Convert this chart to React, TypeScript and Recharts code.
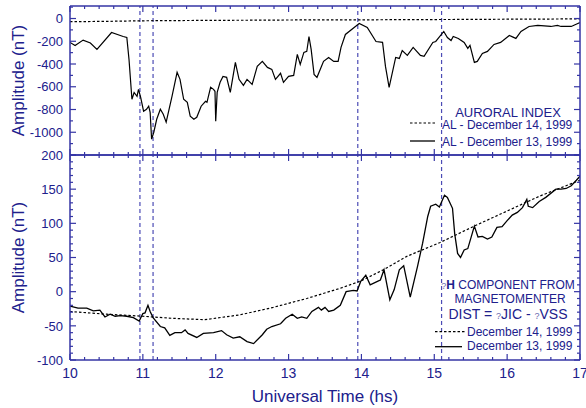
import { LineChart, Line, XAxis, YAxis, ReferenceLine, Legend } from 'recharts'

const NAVY = '#20208c'
const AXIS = '#3535a5'
const GUIDE = '#4b4bb5'
const FONT = '"Liberation Sans", Arial, Helvetica, sans-serif'

// hours UT
const hourTicks = [
  10, 10.2, 10.4, 10.6, 10.8, 11, 11.2, 11.4, 11.6, 11.8, 12, 12.2, 12.4, 12.6, 12.8,
  13, 13.2, 13.4, 13.6, 13.8, 14, 14.2, 14.4, 14.6, 14.8, 15, 15.2, 15.4, 15.6, 15.8,
  16, 16.2, 16.4, 16.6, 16.8, 17,
]
const eventHours = [10.96, 11.14, 13.95, 15.1]

const alTicks = [-1200, -1100, -1000, -900, -800, -700, -600, -500, -400, -300, -200, -100, 0, 100]
const alLabels = [-1000, -800, -600, -400, -200, 0]

const dhTicks = [
  -100, -90, -80, -70, -60, -50, -40, -30, -20, -10, 0, 10, 20, 30, 40, 50, 60, 70, 80, 90,
  100, 110, 120, 130, 140, 150, 160, 170, 180, 190, 200,
]
const dhLabels = [-100, -50, 0, 50, 100, 150, 200]

// AL - December 14, 1999
const alHours14 = [10, 10.5, 11, 11.5, 12, 12.5, 13, 13.5, 14, 14.5, 15, 15.5, 16, 16.5, 17]
const alValues14 = [-28, -25, -20, -18, -16, -15, -13, -12, -12, -10, -9, -8, -6, -5, -3]

// AL - December 13, 1999
const alHours13 = [
  10.0, 10.07, 10.18, 10.28, 10.37, 10.57, 10.73, 10.78, 10.81, 10.85,
  10.88, 10.92, 10.94, 10.97, 11.01, 11.05, 11.08, 11.1, 11.12, 11.15,
  11.19, 11.24, 11.28, 11.32, 11.4, 11.47, 11.51, 11.56, 11.61, 11.65,
  11.7, 11.74, 11.8, 11.86, 11.88, 11.93, 11.97, 11.99, 12.0, 12.02,
  12.06, 12.1, 12.15, 12.2, 12.27, 12.32, 12.38, 12.43, 12.5, 12.57,
  12.64, 12.71, 12.77, 12.82, 12.89, 12.93, 13.0, 13.07, 13.12, 13.16,
  13.21, 13.25, 13.28, 13.31, 13.35, 13.39, 13.48, 13.55, 13.62, 13.68,
  13.72, 13.78, 13.9, 13.97, 14.08, 14.2, 14.29, 14.33, 14.38, 14.47,
  14.52, 14.56, 14.63, 14.71, 14.81, 14.86, 14.98, 15.02, 15.13, 15.18,
  15.23, 15.26, 15.33, 15.41, 15.46, 15.49, 15.55, 15.59, 15.66, 15.73,
  15.82, 15.91, 16.03, 16.12, 16.19, 16.3, 16.42, 16.6, 16.69, 16.74,
  16.88, 16.97, 17.0,
]
const alValues13 = [
  -210, -237, -190, -215, -272, -123, -158, -167, -360, -710,
  -650, -684, -623, -693, -815, -798, -771, -825, -1061, -1000,
  -886, -798, -842, -912, -684, -473, -535, -710, -737, -859,
  -886, -868, -771, -728, -737, -605, -623, -640, -903, -650,
  -561, -509, -517, -650, -386, -535, -588, -535, -579, -421,
  -377, -430, -447, -535, -482, -561, -509, -500, -316, -403,
  -298, -289, -158, -272, -491, -517, -377, -342, -377, -377,
  -254, -140, -79, -44, -79, -202, -210, -421, -605, -342,
  -351, -281, -324, -254, -324, -333, -210, -202, -114, -167,
  -193, -158, -175, -210, -263, -237, -386, -377, -307, -289,
  -228, -210, -149, -175, -114, -70, -61, -70, -61, -70,
  -70, -44, -35,
]

// dH (JIC - VSS) - December 14, 1999
const dhHours14 = [10, 10.5, 11, 11.4, 11.85, 12.33, 12.79, 13.25, 13.71, 14, 14.3, 14.63, 15.08, 15.55, 16, 16.45, 17]
const dhValues14 = [-29, -33, -36, -39, -41, -34, -23, -10, 5, 16, 32, 52, 72, 96, 118, 140, 163]

// dH (JIC - VSS) - December 13, 1999
const dhHours13 = [
  10.0, 10.11, 10.23, 10.32, 10.41, 10.48, 10.55, 10.62, 10.69, 10.78,
  10.87, 10.95, 11.0, 11.03, 11.07, 11.1, 11.14, 11.24, 11.3, 11.37,
  11.44, 11.53, 11.58, 11.62, 11.74, 11.83, 11.97, 12.08, 12.15, 12.24,
  12.33, 12.43, 12.52, 12.64, 12.7, 12.77, 12.89, 12.96, 13.05, 13.12,
  13.18, 13.25, 13.32, 13.41, 13.45, 13.5, 13.55, 13.62, 13.71, 13.79,
  13.89, 13.94, 13.99, 14.06, 14.12, 14.22, 14.26, 14.31, 14.39, 14.45,
  14.52, 14.58, 14.67, 14.77, 14.84, 14.91, 14.95, 15.02, 15.07, 15.14,
  15.18, 15.25, 15.28, 15.32, 15.36, 15.41, 15.46, 15.55, 15.6, 15.66,
  15.73, 15.79, 15.86, 15.93, 16.0, 16.07, 16.14, 16.21, 16.27, 16.29,
  16.35, 16.44, 16.53, 16.67, 16.74, 16.81, 16.88, 16.95, 17.0,
]
const dhValues13 = [
  -21, -24, -24, -28, -27, -37, -33, -36, -35, -36,
  -38, -43, -32, -31, -20, -29, -38, -51, -53, -64,
  -60, -60, -56, -61, -67, -61, -60, -57, -63, -68,
  -66, -73, -76, -63, -55, -51, -47, -39, -33, -39,
  -37, -39, -29, -23, -27, -23, -29, -27, -20, 0,
  2, 1, 15, 24, 10, 15, 17, 32, -12, 3,
  32, 38, -8, 37, 71, 110, 125, 128, 124, 141,
  138, 122, 85, 56, 50, 61, 63, 96, 80, 81,
  77, 80, 94, 95, 104, 112, 116, 123, 135, 125,
  123, 132, 138, 150, 150, 151, 155, 163, 169,
]

const toRows = (hours: number[], values: number[]) => hours.map((t, i) => ({ t, v: values[i] }))
const al14 = toRows(alHours14, alValues14)
const al13 = toRows(alHours13, alValues13)
const dh14 = toRows(dhHours14, dhValues14)
const dh13 = toRows(dhHours13, dhValues13)

type TickProps = { x: number; y: number; payload: { value: number } }

const isStep = (v: number, step: number) => Math.abs(v / step - Math.round(v / step)) < 1e-6

// inward ticks, labels only on the bottom axis
const xTick = (dir: number, labels: boolean) => (p: TickProps) => {
  const v = p.payload.value
  const major = isStep(v, 1)
  return (
    <g>
      <line x1={p.x} x2={p.x} y1={p.y} y2={p.y + dir * (major ? 6 : 3)} stroke={AXIS} strokeWidth={1.2} />
      {labels && major && (
        <text x={p.x} y={p.y + 18} textAnchor="middle" fontSize={14} fill={NAVY} fontFamily={FONT}>
          {v}
        </text>
      )}
    </g>
  )
}

const yTick = (dir: number, majorStep: number, labels: number[] | null) => (p: TickProps) => {
  const v = p.payload.value
  const major = isStep(v, majorStep)
  return (
    <g>
      <line x1={p.x} x2={p.x + dir * (major ? 6 : 3)} y1={p.y} y2={p.y} stroke={AXIS} strokeWidth={1.2} />
      {labels && labels.includes(v) && (
        <text x={p.x - 7} y={p.y} dy="0.36em" textAnchor="end" fontSize={13} fill={NAVY} fontFamily={FONT}>
          {v}
        </text>
      )}
    </g>
  )
}

const axisLine = { stroke: AXIS, strokeWidth: 1.5 }
const yTitle = { value: 'Amplitude (nT)', angle: -90, position: 'center' as const, dx: -17, fill: NAVY, fontSize: 17, fontFamily: FONT }

const Q = ({ children }: { children: string }) => (
  <tspan fontSize={9} fill="#6a6ab0">{children}</tspan>
)

function AuroralLegend() {
  return (
    <svg width={186} height={56} style={{ display: 'block', fontFamily: FONT }}>
      <text x={108} y={17} textAnchor="middle" fontSize={13} fill={NAVY}>AURORAL INDEX</text>
      <line x1={10} x2={35} y1={23} y2={23} stroke="#000" strokeWidth={1.2} strokeDasharray="2.5 2" />
      <text x={42} y={29} fontSize={12} fill={NAVY}>AL - December 14, 1999</text>
      <line x1={10} x2={35} y1={41} y2={41} stroke="#000" strokeWidth={1.3} />
      <text x={42} y={45.5} fontSize={12} fill={NAVY}>AL - December 13, 1999</text>
    </svg>
  )
}

function MagnetometerLegend() {
  return (
    <svg width={186} height={80} style={{ display: 'block', fontFamily: FONT }}>
      <text x={108} y={14} textAnchor="middle" fontSize={12} fill={NAVY}>
        <Q>?</Q><tspan fontWeight="bold">H</tspan> COMPONENT FROM
      </text>
      <text x={110} y={28} textAnchor="middle" fontSize={12} fill={NAVY}>MAGNETOMENTER</text>
      <text x={108} y={44} textAnchor="middle" fontSize={14} fill={NAVY}>
        DIST = <Q>?</Q>JIC - <Q>?</Q>VSS
      </text>
      <line x1={35} x2={65} y1={56.7} y2={56.7} stroke="#000" strokeWidth={1.2} strokeDasharray="2.5 2" />
      <text x={67} y={60.7} fontSize={12} fill={NAVY}>December 14, 1999</text>
      <line x1={35} x2={62} y1={71.7} y2={71.7} stroke="#000" strokeWidth={1.3} />
      <text x={67} y={75} fontSize={12} fill={NAVY}>December 13, 1999</text>
    </svg>
  )
}

export default function App() {
  return (
    <div style={{ position: 'absolute', left: 0, top: 0, width: 586, height: 408, background: '#fff', fontFamily: FONT, overflow: 'hidden' }}>
      {/* Auroral index panel */}
      <div style={{ position: 'absolute', left: 0, top: 0 }}>
        <LineChart width={586} height={160} margin={{ top: 0, right: 0, bottom: 0, left: 0 }}>
          <XAxis dataKey="t" type="number" domain={[10, 17]} ticks={hourTicks} interval={0} allowDataOverflow
            height={5} tickSize={0} tickMargin={0} axisLine={axisLine} tickLine={false} tick={xTick(-1, false)} />
          <XAxis xAxisId="top" orientation="top" dataKey="t" type="number" domain={[10, 17]} ticks={hourTicks} interval={0}
            allowDataOverflow height={6} tickSize={0} tickMargin={0} axisLine={axisLine} tickLine={false} tick={xTick(1, false)} />
          <YAxis type="number" domain={[-1200, 110]} ticks={alTicks} interval={0} allowDataOverflow width={70}
            tickSize={0} tickMargin={0} axisLine={axisLine} tickLine={false} tick={yTick(1, 200, alLabels)} label={yTitle} />
          <YAxis yAxisId="r" orientation="right" type="number" domain={[-1200, 110]} ticks={alTicks} interval={0}
            allowDataOverflow width={6} tickSize={0} tickMargin={0} axisLine={axisLine} tickLine={false} tick={yTick(-1, 200, null)} />
          {eventHours.map((h) => (
            <ReferenceLine key={h} x={h} stroke={GUIDE} strokeWidth={1.2} strokeDasharray="4 3" />
          ))}
          <Line data={al14} dataKey="v" type="linear" stroke="#000" strokeWidth={1.2} strokeDasharray="2.5 2" dot={false} isAnimationActive={false} />
          <Line data={al13} dataKey="v" type="linear" stroke="#000" strokeWidth={1.2} dot={false} isAnimationActive={false} />
          <Legend layout="vertical" align="center" verticalAlign="middle" content={() => <AuroralLegend />}
            wrapperStyle={{ left: 400, top: 100, width: 186, height: 56 }} />
        </LineChart>
      </div>

      {/* Delta H panel */}
      <div style={{ position: 'absolute', left: 0, top: 140 }}>
        <LineChart width={586} height={268} margin={{ top: 0, right: 0, bottom: 0, left: 0 }}>
          <XAxis dataKey="t" type="number" domain={[10, 17]} ticks={hourTicks} interval={0} allowDataOverflow
            height={48} tickSize={0} tickMargin={0} axisLine={axisLine} tickLine={false} tick={xTick(-1, true)}
            label={{ value: 'Universal Time (hs)', position: 'insideBottom', offset: 6, fill: NAVY, fontSize: 17, fontFamily: FONT }} />
          <XAxis xAxisId="top" orientation="top" dataKey="t" type="number" domain={[10, 17]} ticks={hourTicks} interval={0}
            allowDataOverflow height={15} tickSize={0} tickMargin={0} axisLine={axisLine} tickLine={false} tick={xTick(1, false)} />
          <YAxis type="number" domain={[-100, 200]} ticks={dhTicks} interval={0} allowDataOverflow width={70}
            tickSize={0} tickMargin={0} axisLine={axisLine} tickLine={false} tick={yTick(1, 50, dhLabels)} label={yTitle} />
          <YAxis yAxisId="r" orientation="right" type="number" domain={[-100, 200]} ticks={dhTicks} interval={0}
            allowDataOverflow width={6} tickSize={0} tickMargin={0} axisLine={axisLine} tickLine={false} tick={yTick(-1, 50, null)} />
          {eventHours.map((h) => (
            <ReferenceLine key={h} x={h} stroke={GUIDE} strokeWidth={1.2} strokeDasharray="4 3" />
          ))}
          <Line data={dh14} dataKey="v" type="linear" stroke="#000" strokeWidth={1.2} strokeDasharray="2.5 2" dot={false} isAnimationActive={false} />
          <Line data={dh13} dataKey="v" type="linear" stroke="#000" strokeWidth={1.3} dot={false} isAnimationActive={false} />
          <Legend layout="vertical" align="center" verticalAlign="middle" content={() => <MagnetometerLegend />}
            wrapperStyle={{ left: 400, top: 135, width: 186, height: 80 }} />
        </LineChart>
      </div>
    </div>
  )
}
